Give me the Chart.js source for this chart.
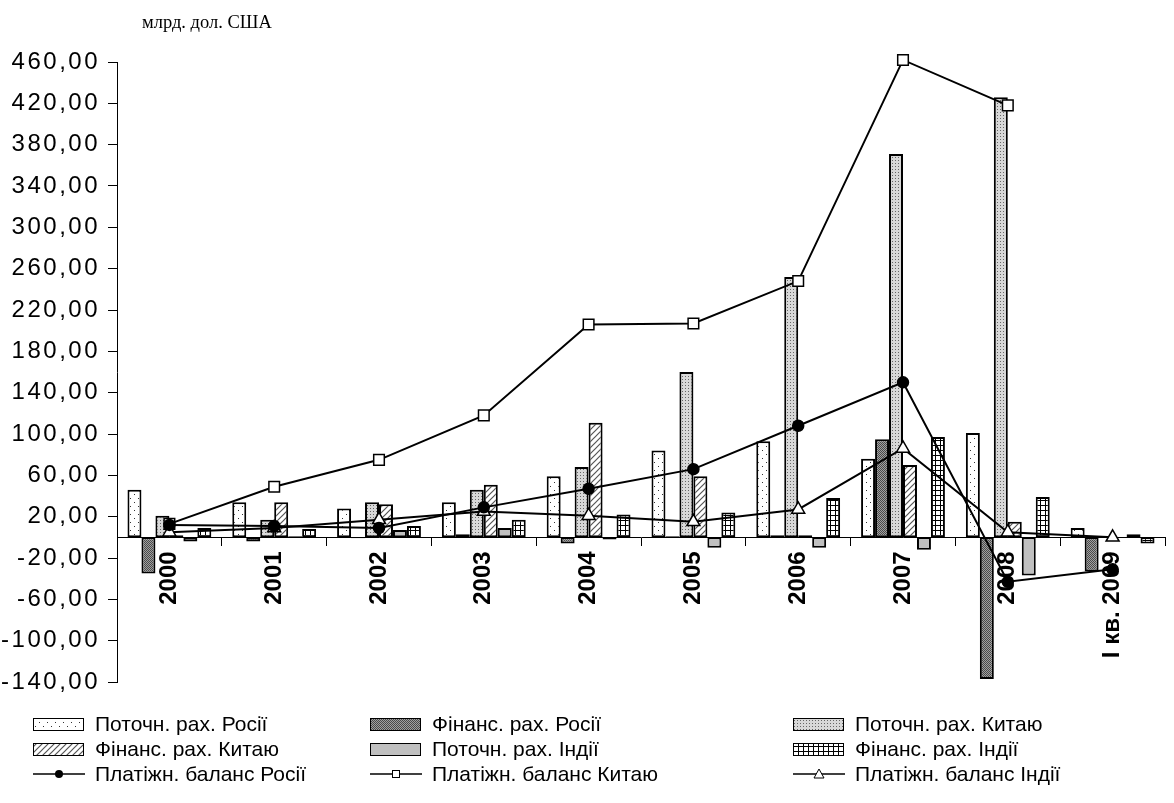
<!DOCTYPE html>
<html>
<head>
<meta charset="utf-8">
<script src="https://cdn.jsdelivr.net/npm/chart.js@4.4.0/dist/chart.umd.min.js"></script>
<style>
  body { margin: 0; background: #fff; }
  #wrap { position: relative; width: 1174px; height: 803px; }
  #title { position: absolute; left: 142px; top: 12px; font: 18.5px 'Liberation Serif', 'Times New Roman', serif; color: #000; }
  .item { position: absolute; height: 26px; display: flex; align-items: center; font: 21px 'Liberation Sans', Arial, sans-serif; color: #000; white-space: nowrap; }
  .item canvas { margin-right: 10px; }
</style>
</head>
<body>
<div id="wrap">
  <canvas id="chart" width="1174" height="803"></canvas>
  <div id="title">млрд. дол. США</div>
  <div id="legend"></div>
</div>
<script>
const years = ['2000', '2001', '2002', '2003', '2004', '2005', '2006', '2007', '2008', 'I кв. 2009'];
const rusCurrent   = [46, 34, 28, 34, 59, 84, 93, 76, 101, 9];
const rusFinancial = [-35, -4, -1, 3, -6, 1, 2, 95, -137, -33];
const chnCurrent   = [21, 17, 34, 46, 68, 160, 252, 371, 426, null];
const chnFinancial = [2, 34, 32, 51, 111, 59, 2, 70, 15, null];
const indCurrent   = [-4, 1, 7, 9, -2, -10, -10, -12, -37, 3];
const indFinancial = [9, 8, 11, 17, 22, 24, 38, 97, 39, -6];
const rusBalance   = [12, 11, 9, 29, 47, 66, 108, 150, -43, -31];
const chnBalance   = [13, 49, 75, 118, 206, 207, 248, 462, 418, null];
const indBalance   = [5, 9, 17, 25, 21, 15, 27, 86, 5, 0];
const yTicks = [-140, -100, -60, -20, 20, 60, 100, 140, 180, 220, 260, 300, 340, 380, 420, 460];

function pattern(size, paint) {
  const c = document.createElement('canvas');
  c.width = size; c.height = size;
  const g = c.getContext('2d');
  paint(g, size);
  return g.createPattern(c, 'repeat');
}

function makeFills() {
  return [
    pattern(8, g => { g.fillStyle = '#fff'; g.fillRect(0, 0, 8, 8); g.fillStyle = '#333'; g.fillRect(2, 2, 1, 1); g.fillRect(6, 6, 1, 1); }),
    pattern(2, g => { g.fillStyle = '#a0a0a0'; g.fillRect(0, 0, 2, 2); g.fillStyle = '#4a4a4a'; g.fillRect(0, 0, 1, 1); g.fillRect(1, 1, 1, 1); }),
    pattern(3, g => { g.fillStyle = '#d8d8d8'; g.fillRect(0, 0, 3, 3); g.fillStyle = '#666'; g.fillRect(1, 1, 1, 1); }),
    pattern(6, g => {
      g.fillStyle = '#fff'; g.fillRect(0, 0, 6, 6);
      g.strokeStyle = '#555'; g.lineWidth = 1.2;
      g.beginPath(); g.moveTo(-1, 7); g.lineTo(7, -1); g.moveTo(-1, 1); g.lineTo(1, -1); g.moveTo(5, 7); g.lineTo(7, 5); g.stroke();
    }),
    '#c0c0c0',
    pattern(5, g => { g.fillStyle = '#fff'; g.fillRect(0, 0, 5, 5); g.fillStyle = '#000'; g.fillRect(0, 0, 5, 1); g.fillRect(0, 0, 1, 5); })
  ];
}

const fills = makeFills();
const font = "'Liberation Sans', Arial, sans-serif";

function bar(label, data, fill) {
  return {
    type: 'bar', label, data, order: 1,
    backgroundColor: fill, borderColor: '#000', borderWidth: 2, borderSkipped: false
  };
}

function line(label, data, style, radius, bg) {
  return {
    type: 'line', label, data, order: 0, clip: false,
    borderColor: '#000', borderWidth: 2, tension: 0, spanGaps: false,
    pointStyle: style, pointRadius: radius, pointBackgroundColor: bg,
    pointBorderColor: '#000', pointBorderWidth: 1.5
  };
}

// the y labels in the original are set wider than plain Arial
function spreadLabels(scale) {
  if (scale._spread) return;
  const draw = scale.drawLabels;
  scale.drawLabels = function (area) {
    this.ctx.save();
    this.ctx.letterSpacing = '2.5px';
    draw.call(this, area);
    this.ctx.restore();
  };
  scale._spread = true;
}

const chart = new Chart(document.getElementById('chart'), {
  type: 'bar',
  data: {
    labels: years,
    datasets: [
      bar('Поточн. рах. Росії', rusCurrent, fills[0]),
      bar('Фінанс. рах. Росії', rusFinancial, fills[1]),
      bar('Поточн. рах. Китаю', chnCurrent, fills[2]),
      bar('Фінанс. рах. Китаю', chnFinancial, fills[3]),
      bar('Поточн. рах. Індії', indCurrent, fills[4]),
      bar('Фінанс. рах. Індії', indFinancial, fills[5]),
      line('Платіжн. баланс Росії', rusBalance, 'circle', 5.5, '#000'),
      line('Платіжн. баланс Китаю', chnBalance, 'rect', 7.5, '#fff'),
      line('Платіжн. баланс Індії', indBalance, 'triangle', 7.5, '#fff')
    ]
  },
  options: {
    responsive: false,
    animation: false,
    events: [],
    categoryPercentage: 0.8,
    barPercentage: 1,
    layout: { padding: { top: 62, right: 0, bottom: 121, left: 0 } },
    plugins: { legend: { display: false }, tooltip: { enabled: false } },
    scales: {
      x: {
        position: { y: 0 },
        grid: { drawOnChartArea: false, drawTicks: true, tickLength: 8, color: '#000' },
        border: { display: true, color: '#000', width: 1 },
        ticks: {
          autoSkip: false, minRotation: 90, maxRotation: 90, padding: 6,
          color: '#000', font: { family: font, size: 24, weight: 'bold' }
        }
      },
      y: {
        min: -140, max: 460,
        afterBuildTicks: scale => { scale.ticks = yTicks.map(v => ({ value: v })); },
        afterFit: scale => { scale.width = 117; spreadLabels(scale); },
        grid: { drawOnChartArea: false, drawTicks: true, tickLength: 9, color: '#000' },
        border: { display: true, color: '#000', width: 1 },
        ticks: {
          padding: 8, color: '#000', font: { family: font, size: 24 },
          callback: v => v.toFixed(2).replace('.', ',')
        }
      }
    }
  }
});

// legend in three columns, as in the original
const colLeft = [33, 370, 793];
const rowTop = [711, 736, 761];
const legend = document.getElementById('legend');
const swatchFills = makeFills();
chart.data.datasets.forEach((ds, i) => {
  const item = document.createElement('div');
  item.className = 'item';
  item.style.left = colLeft[i % 3] + 'px';
  item.style.top = rowTop[Math.floor(i / 3)] + 'px';
  const sw = document.createElement('canvas');
  sw.width = 52; sw.height = 16;
  const g = sw.getContext('2d');
  if (ds.type === 'bar') {
    g.fillStyle = swatchFills[i];
    g.fillRect(1, 2, 50, 12);
    g.strokeStyle = '#000'; g.lineWidth = 1;
    g.strokeRect(0.5, 2.5, 50, 12);
  } else {
    g.strokeStyle = '#000'; g.lineWidth = 1.5;
    g.beginPath(); g.moveTo(0, 8); g.lineTo(52, 8); g.stroke();
    g.lineWidth = 1;
    if (ds.pointStyle === 'circle') {
      g.fillStyle = '#000'; g.beginPath(); g.arc(26, 8, 4, 0, Math.PI * 2); g.fill();
    } else if (ds.pointStyle === 'rect') {
      g.fillStyle = '#fff'; g.fillRect(22.5, 4.5, 7, 7); g.strokeRect(22.5, 4.5, 7, 7);
    } else {
      g.fillStyle = '#fff'; g.beginPath(); g.moveTo(26, 3); g.lineTo(31, 12); g.lineTo(21, 12); g.closePath(); g.fill(); g.stroke();
    }
  }
  item.appendChild(sw);
  const txt = document.createElement('span');
  txt.textContent = ds.label;
  item.appendChild(txt);
  legend.appendChild(item);
});
</script>
</body>
</html>
